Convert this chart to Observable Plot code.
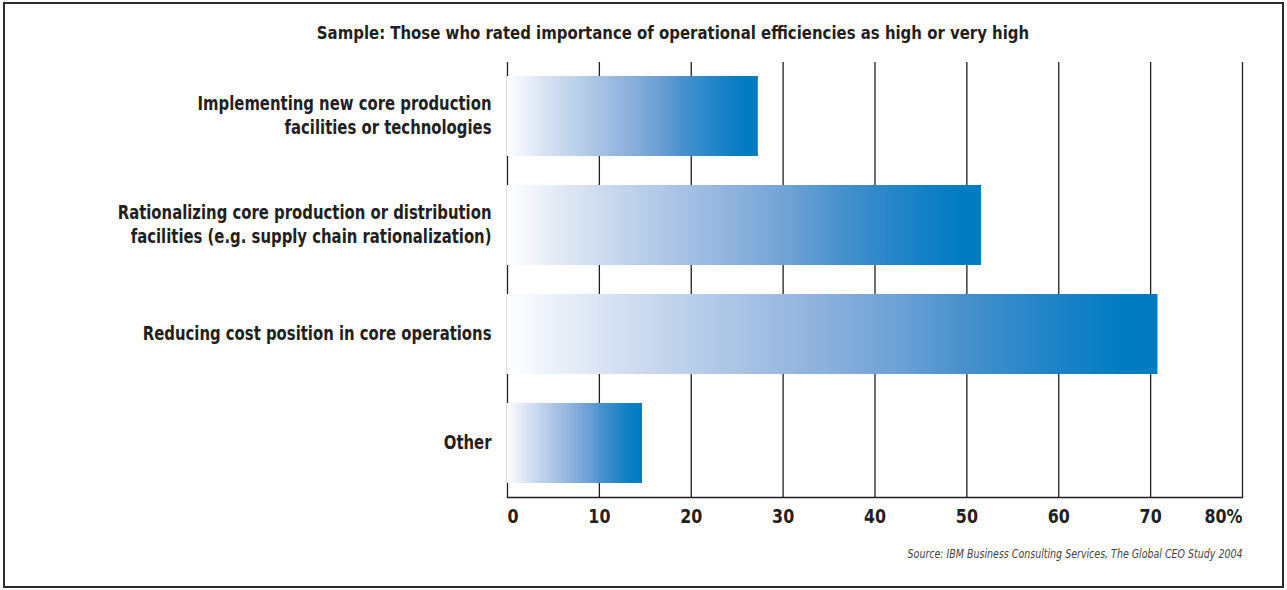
<!DOCTYPE html>
<html><head><meta charset="utf-8">
<script src="https://cdn.jsdelivr.net/npm/d3@7"></script>
<script src="https://cdn.jsdelivr.net/npm/@observablehq/plot@0.6"></script>
<style>
body{margin:0;background:#fff;width:1287px;height:590px;position:relative;overflow:hidden;font-family:"Liberation Sans Narrow","DejaVu Sans Condensed","Arial Narrow",sans-serif;color:#231f20}
#border{position:absolute;left:3px;top:2px;width:1281px;height:586px;border:2px solid #2b2b2b;box-sizing:border-box}
#chart{position:absolute;left:0;top:0}
#title{position:absolute;left:673px;top:23px;line-height:20px;white-space:nowrap;font-weight:bold;font-size:18px;transform:translateX(-50%) scaleX(0.922);}
#source{position:absolute;right:45px;top:547px;line-height:14px;white-space:nowrap;font-style:italic;font-size:13px;color:#444;transform:scaleX(0.81);transform-origin:right center}
</style></head><body>
<div id="border"></div>
<div id="chart"></div>
<div id="title"></div>
<div id="source"></div>
<script>
const titleText = "Sample: Those who rated importance of operational efficiencies as high or very high";
const sourceText = "Source: IBM Business Consulting Services, The Global CEO Study 2004";
const categories = [
  "Implementing new core production\nfacilities or technologies",
  "Rationalizing core production or distribution\nfacilities (e.g. supply chain rationalization)",
  "Reducing cost position in core operations",
  "Other"
];
const values = [27.3, 51.6, 70.8, 14.7];
const xTicks = [0, 10, 20, 30, 40, 50, 60, 70, 80];
const xTickLabels = ["0", "10", "20", "30", "40", "50", "60", "70", "80%"];
const gradientStops = [
  [0, "#ffffff"], [0.05, "#f1f5fb"], [0.15, "#d8e3f2"], [0.3, "#b6cce9"],
  [0.45, "#95b6df"], [0.6, "#6da1d5"], [0.7, "#4891cd"], [0.85, "#1b83c7"],
  [0.95, "#007cc2"], [1, "#007cc2"]
];

document.getElementById("title").textContent = titleText;
document.getElementById("source").textContent = sourceText;

const rows = categories.map((c, i) => ({category: c, value: values[i]}));
const tickRows = xTicks.map((t, i) => ({x: t, label: xTickLabels[i]}));
const ink = "#231f20";
const fontFamily = '"Liberation Sans Narrow","DejaVu Sans Condensed","Arial Narrow",sans-serif';

const defs = () => {
  const d = d3.create("svg:defs");
  const g = d.append("linearGradient").attr("id", "barGrad")
    .attr("x1", "0").attr("x2", "1").attr("y1", "0").attr("y2", "0");
  gradientStops.forEach(([o, c]) => g.append("stop").attr("offset", o).attr("stop-color", c));
  return d.node();
};

const tickText = (data, anchor) => Plot.text(data, {
  x: "x", text: "label", frameAnchor: "bottom", dy: 25, textAnchor: anchor,
  fontSize: 19, fontWeight: "bold", fill: ink, className: "xtick"
});

const chart = Plot.plot({
  width: 1287, height: 590,
  marginTop: 62, marginBottom: 93, marginLeft: 507, marginRight: 45,
  style: {fontFamily, color: ink, background: "transparent"},
  x: {domain: [0, 80], axis: null},
  y: {domain: categories, paddingInner: 0.27, paddingOuter: 0.13, axis: null, label: null},
  marks: [
    defs,
    Plot.gridX(xTicks, {stroke: ink, strokeOpacity: 1, strokeWidth: 1.3}),
    Plot.frame({anchor: "bottom", stroke: ink, strokeWidth: 1.5}),
    Plot.barX(rows, {y: "category", x: "value", fill: "url(#barGrad)"}),
    Plot.axisY({tickSize: 0, tickPadding: 16, dy: -2, fontSize: 19, fontWeight: "bold", lineHeight: 1.27, fill: ink, label: null, className: "ylab"}),
    tickText(tickRows.slice(0, 1), "start"),
    tickText(tickRows.slice(1, -1), "middle"),
    tickText(tickRows.slice(-1), "end")
  ]
});
// condense glyphs horizontally to mimic a narrow typeface
function squeeze(sel, k) {
  chart.querySelectorAll(sel).forEach(t => {
    const tr = t.getAttribute("transform") || "";
    t.setAttribute("transform", (tr + ` scale(${k},1)`).trim());
  });
}
squeeze(".ylab text", 0.87);
squeeze(".xtick text", 0.93);
document.getElementById("chart").append(chart);
</script>
</body></html>
